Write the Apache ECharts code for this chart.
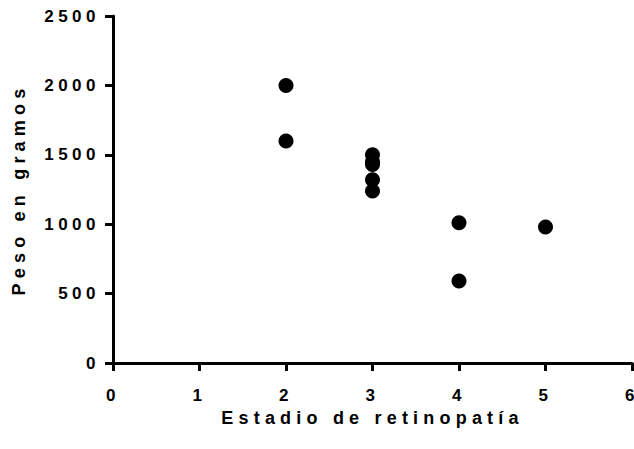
<!DOCTYPE html>
<html>
<head>
<meta charset="utf-8">
<script src="https://cdn.jsdelivr.net/npm/echarts@6/dist/echarts.min.js"></script>
<style>
  html, body { margin: 0; padding: 0; background: #fff; }
  #chart { width: 634px; height: 449px; }
  /* spaced-out lettering: tick labels, then the axis titles */
  #chart text { letter-spacing: 4.5px; }
  #chart text[style*="18px"] { letter-spacing: 5.2px; }
</style>
</head>
<body>
<div id="chart"></div>
<script>
// Retinopathy stage vs. birth weight (grams)
const stages  = [2, 2, 3, 3, 3, 3, 3, 4, 4, 5];
const weights = [2000, 1600, 1500, 1450, 1430, 1320, 1240, 1010, 590, 980];

const xTitle = 'Estadio de retinopatía';
const yTitle = 'Peso en gramos';

const points = stages.map((s, i) => [s, weights[i]]);

const font = "'Liberation Sans', Arial, sans-serif";
const ink = '#000';

const chart = echarts.init(document.getElementById('chart'), null, { renderer: 'svg' });

chart.setOption({
  animation: false,
  backgroundColor: '#fff',
  grid: { left: 113, right: 2, top: 16, bottom: 86, outerBoundsMode: 'none', containLabel: false },
  xAxis: {
    type: 'value',
    min: 0, max: 6, interval: 1,
    name: xTitle,
    nameLocation: 'middle',
    nameGap: 41,
    nameTextStyle: { color: ink, fontFamily: font, fontWeight: 'bold', fontSize: 18 },
    axisLine: { show: true, onZero: false, lineStyle: { color: ink, width: 3 } },
    axisTick: { show: true, length: 8, lineStyle: { color: ink, width: 3 } },
    axisLabel: {
      color: ink, fontFamily: font, fontWeight: 'bold', fontSize: 17, margin: 24,
      showMaxLabel: true, hideOverlap: false,
      formatter: v => String(v)
    },
    splitLine: { show: false }
  },
  yAxis: {
    type: 'value',
    min: 0, max: 2500, interval: 500,
    name: yTitle,
    nameLocation: 'middle',
    nameRotate: 90,
    nameGap: 85,
    nameTextStyle: { color: ink, fontFamily: font, fontWeight: 'bold', fontSize: 18 },
    axisLine: { show: true, lineStyle: { color: ink, width: 3 } },
    axisTick: { show: true, length: 8, lineStyle: { color: ink, width: 3 } },
    axisLabel: {
      color: ink, fontFamily: font, fontWeight: 'bold', fontSize: 17, margin: 13,
      formatter: v => String(v)
    },
    splitLine: { show: false }
  },
  series: [{
    type: 'scatter',
    data: points,
    symbol: 'circle',
    symbolSize: 15,
    itemStyle: { color: ink, opacity: 1 }
  }]
});
</script>
</body>
</html>
